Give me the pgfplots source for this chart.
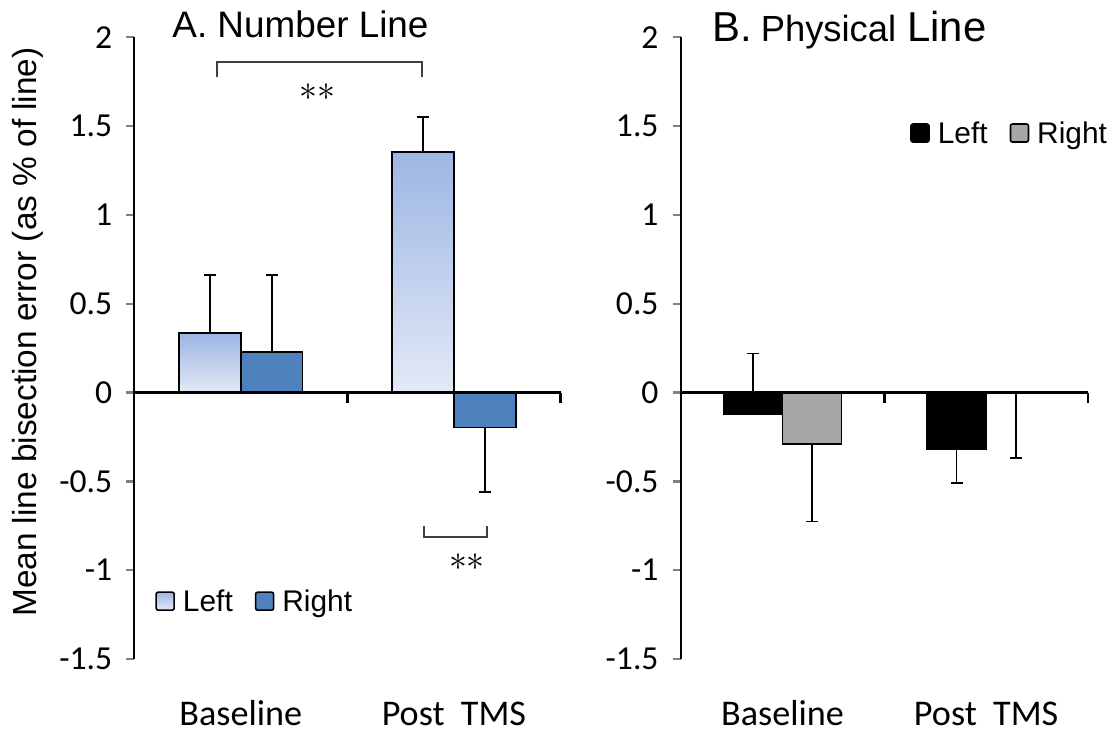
\documentclass[border=0pt]{standalone}
\usepackage{graphicx}
\usepackage{pgfplots}
\pgfplotsset{compat=1.18}
\usepackage{fontspec}
\setmainfont{Liberation Sans}
\newfontfamily\calib{Carlito}

\definecolor{lblueTop}{HTML}{9DB6E4}
\definecolor{lblueBot}{HTML}{E3E9F6}
\definecolor{dblue}{HTML}{4F81BD}
\definecolor{mgray}{HTML}{A6A6A6}
\definecolor{brk}{HTML}{404040}

\pgfplotsset{
  squarelegend/.style={
    legend image code/.code={%
      \draw[##1, line width=1.6bp, rounded corners=2bp] (0bp,-9bp) rectangle (18bp,9bp);
      \path (24bp,0bp);}},
  panel/.style={
    scale only axis,
    width=#1, height=621.7bp,
    xmin=-0.5, xmax=1.5,
    ymin=-1.5, ymax=2,
    axis y line*=left,
    axis x line*=bottom,
    x axis line style={draw=none},
    xtick={0,1},
    xticklabels={Baseline, Post\ \ TMS},
    xtick style={draw=none},
    ytick={-1.5,-1,-0.5,0,0.5,1,1.5,2},
    yticklabel={\calib\fontsize{33.7}{40}\selectfont
      \pgfmathprintnumber[assume math mode=true]{\tick}},
    tick align=outside,
    major tick length=8bp,
    y axis line style={line width=2.4bp},
    ytick style={line width=2.4bp},
    yticklabel style={anchor=east, inner sep=0pt, xshift=-14bp},
    xticklabel style={font=\calib\fontsize{36.3}{42}\selectfont,
      anchor=base, inner sep=0pt, yshift=-58bp},
    clip=false,
    bar width=0.29,
    legend columns=2,
    legend style={draw=none, fill=none, anchor=west,
      font=\fontsize{30}{36}\selectfont, inner sep=0pt,
      /tikz/every even column/.append style={column sep=20bp}},
    squarelegend,
  },
  barstyle/.style={ybar, bar shift=#1, draw=black, line width=1.6bp},
  errstyle/.style={forget plot, draw=none, mark=none,
    error bars/y dir=#1, error bars/y explicit,
    error bars/error bar style={draw=black, line width=1.6bp},
    error bars/error mark options={draw=black, line width=1.6bp,
      mark size=6bp, rotate=90}},
}

\begin{document}
\begin{tikzpicture}
\useasboundingbox (-134.3bp,-74bp) rectangle (978.7bp,659bp);

% Panel A: number line bisection
\begin{axis}[panel=426.2bp, at={(0,0)}, anchor=south west,
  ylabel={Mean line bisection error (as \% of line)},
  ylabel style={font=\fontsize{33.5}{40}\selectfont,
    at={(axis description cs:-0.249,0.526)}, anchor=center},
  legend style={at={(axis description cs:0.049,0.093)}}]
% Left hemifield: each bar shaded on its own
\addplot[barstyle=-0.145, top color=lblueTop, bottom color=lblueBot]
  coordinates {(0,0.334)};
\addplot[barstyle=0.145, fill=dblue]
  coordinates {(0,0.229) (1,-0.197)};
\addplot[barstyle=-0.145, top color=lblueTop, bottom color=lblueBot, forget plot]
  coordinates {(1,1.353)};
% one-sided error bars
\addplot[errstyle=plus] coordinates {
  (-0.145,0.334) +- (0,0.328)
  (0.145,0.229) +- (0,0.433)
  (0.855,1.353) +- (0,0.197)};
\addplot[errstyle=minus] coordinates {(1.145,-0.197) +- (0,0.363)};
\legend{Left,Right}
\draw[line width=2.4bp] (axis cs:-0.5,0) -- (axis cs:1.5,0);
\draw[line width=2.4bp] (axis cs:0.5,0) -- ++(0bp,-10bp);
\draw[line width=2.4bp] (axis cs:1.5,0) -- ++(0bp,-10bp);
% significance brackets
\draw[brk, line width=1.8bp] (axis cs:-0.113,1.777) |- (axis cs:0.849,1.863) -- (axis cs:0.849,1.777);
\node[inner sep=0pt] at (axis cs:0.358,1.693) {\scalebox{3.6}{$\mathord{\ast}\mathord{\ast}$}};
\draw[brk, line width=1.8bp] (axis cs:0.860,-0.749) |- (axis cs:1.156,-0.811) -- (axis cs:1.156,-0.749);
\node[inner sep=0pt] at (axis cs:1.061,-0.954) {\scalebox{3.6}{$\mathord{\ast}\mathord{\ast}$}};
\node[anchor=base west, inner sep=0pt, font=\fontsize{37}{44}\selectfont]
  at (rel axis cs:0.089,1) {A. Number Line};
\end{axis}

% Panel B: physical line bisection
\begin{axis}[panel=407.3bp, at={(546.4bp,0)}, anchor=south west,
  legend style={at={(axis description cs:0.563,0.846)}}]
\addplot[barstyle=-0.145, fill=black]
  coordinates {(0,-0.12) (1,-0.32)};
\addplot[barstyle=0.145, fill=mgray]
  coordinates {(0,-0.29) (1,-0.005)};
\addplot[errstyle=plus] coordinates {(-0.145,-0.12) +- (0,0.34)};
\addplot[errstyle=minus] coordinates {
  (0.855,-0.32) +- (0,0.19)
  (0.145,-0.29) +- (0,0.435)
  (1.145,-0.005) +- (0,0.365)};
\legend{Left,Right}
\draw[line width=2.4bp] (axis cs:-0.5,0) -- (axis cs:1.5,0);
\draw[line width=2.4bp] (axis cs:0.5,0) -- ++(0bp,-10bp);
\draw[line width=2.4bp] (axis cs:1.5,0) -- ++(0bp,-10bp);
\node[anchor=base west, inner sep=0pt, font=\fontsize{42}{46}\selectfont]
  at (rel axis cs:0.077,0.993)
  {B.\hspace{9bp}{\fontsize{36.5}{40}\selectfont Physical}\hspace{11bp}Line};
\end{axis}
\end{tikzpicture}
\end{document}
